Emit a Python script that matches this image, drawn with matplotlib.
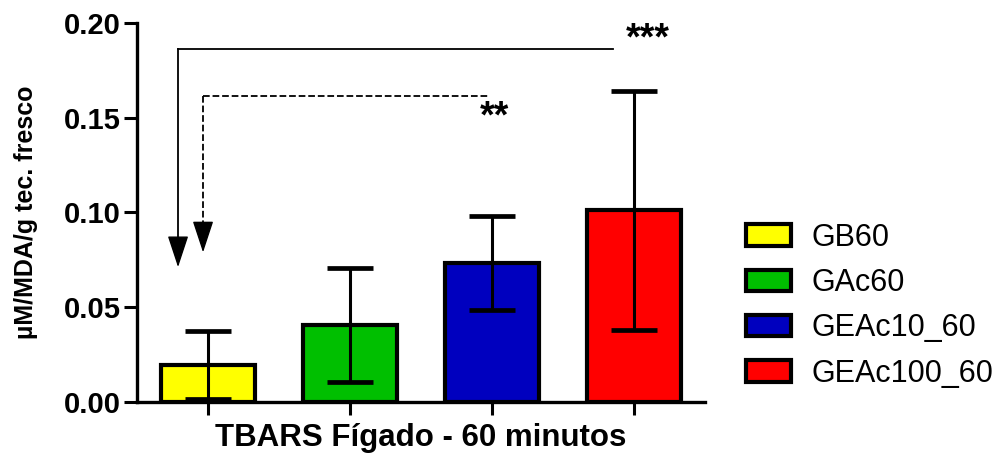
"""TBARS liver, 60 minutes: bar chart with SEM and significance arrows."""

import matplotlib

matplotlib.use("Agg")
import matplotlib.pyplot as plt
from matplotlib.patches import Patch

plt.rcParams["font.family"] = ["Liberation Sans", "DejaVu Sans"]

groups = ["GB60", "GAc60", "GEAc10_60", "GEAc100_60"]
means = [0.0195, 0.0405, 0.0732, 0.1010]
errors = [0.0180, 0.0300, 0.0248, 0.0632]
colors = ["#FFFF00", "#00BF00", "#0000BF", "#FF0000"]

# (from group, to group, label, linestyle)
comparisons = [(0, 3, "***", "-"), (0, 2, "**", "--")]

fig = plt.figure(figsize=(9.95, 4.58), dpi=100)
ax = fig.add_axes([0.1377, 0.1223, 0.5708, 0.8281])

x = list(range(len(groups)))
ax.bar(x, means, width=0.66, color=colors, edgecolor="black", linewidth=3, zorder=2)
eb = ax.errorbar(x, means, yerr=errors, fmt="none", ecolor="black", elinewidth=2.2,
                 capsize=16.5, capthick=3.4, zorder=3)
for cap in eb[1]:
    cap.set_solid_capstyle("round")

# significance brackets: horizontal line then arrow down onto the control bar
bracket_y = [0.1863, 0.1616]
arrow_x = [-0.211, -0.035]
tip_y = [0.0711, 0.0789]
line_end = [2.852, 1.986]
label_pos = [(3.10, 0.186), (2.02, 0.1446)]
for (a, b, lab, ls), by, axx, ty, le, (lx, ly) in zip(comparisons, bracket_y, arrow_x,
                                                      tip_y, line_end, label_pos):
    ax.plot([axx, le], [by, by], color="black", lw=1.3, ls=ls, zorder=4)
    ax.plot([axx, axx], [by, ty + 0.01], color="black", lw=1.3, ls=ls, zorder=4)
    ax.annotate("", xy=(axx, ty), xytext=(axx, ty + 0.012),
                arrowprops=dict(arrowstyle="-|>,head_length=1.0,head_width=0.33",
                                mutation_scale=20, color="black", lw=1, shrinkA=0, shrinkB=0))
    ax.text(lx, ly, lab, fontsize=27, fontweight="bold", ha="center", va="baseline",
            clip_on=False)

ax.set_xlim(-0.5, 3.5)
ax.set_ylim(0, 0.20)
ax.set_yticks([0.00, 0.05, 0.10, 0.15, 0.20])
ax.set_yticklabels(["0.00", "0.05", "0.10", "0.15", "0.20"], fontsize=21, fontweight="bold")
ax.set_xticks(x)
ax.set_xticklabels([])
ax.tick_params(axis="both", direction="out", length=9.4, width=2.2, pad=2)
for side in ["top", "right"]:
    ax.spines[side].set_visible(False)
for side in ["left", "bottom"]:
    ax.spines[side].set_linewidth(2.4)

ax.set_xlabel("TBARS Fígado - 60 minutos", fontsize=22.5, fontweight="bold", labelpad=4)
ax.set_ylabel("µM/MDA/g tec. fresco", fontsize=18, fontweight="bold", labelpad=19)

handles = [Patch(facecolor=c, edgecolor="black", linewidth=3, label=g)
           for c, g in zip(colors, groups)]
ax.legend(handles=handles, loc="center left", bbox_to_anchor=(1.05, 0.254), frameon=False,
          fontsize=22, handlelength=1.5, handleheight=0.7, labelspacing=0.5,
          handletextpad=0.65, borderaxespad=0)

fig.savefig("out.png", dpi=100)
